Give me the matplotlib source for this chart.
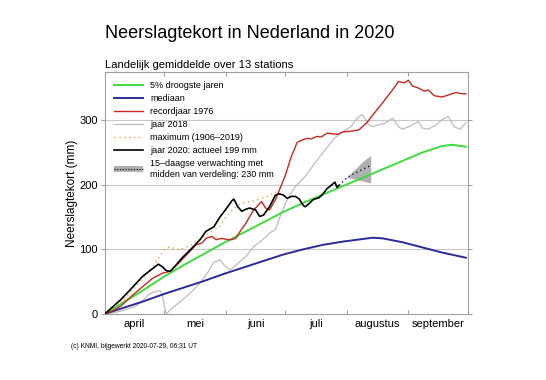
import matplotlib
matplotlib.use("Agg")
import matplotlib.pyplot as plt
from matplotlib.patches import Patch
from matplotlib.lines import Line2D

plt.rcParams["font.family"] = ["Liberation Sans", "DejaVu Sans"]

# x = days since 1 April
month_names = ["april", "mei", "juni", "juli", "augustus", "september"]
month_starts = [0, 30, 61, 91, 122, 153, 183]

dry5_days = [0, 10, 20, 30, 40, 50, 60, 70, 80, 90, 100, 110, 120, 130, 140, 150, 160, 170, 175, 182]
dry5_vals = [0, 19, 38, 58, 76, 93, 110, 126, 142, 158, 172, 185, 198, 211, 224, 237, 250, 260, 262, 259]

med_days = [0, 10, 20, 30, 40, 50, 60, 70, 80, 90, 100, 110, 120, 130, 135, 140, 150, 160, 170, 182]
med_vals = [0, 10, 20, 31, 41, 51, 62, 72, 82, 92, 100, 107, 112, 116, 118, 117, 111, 103, 95, 87]

r76_days = [0, 4, 8, 14, 19, 24, 29, 33, 38, 41, 46, 49, 51, 54, 56, 59, 62, 64, 66, 68, 71,
            75, 79, 81, 83, 86, 88, 91, 94, 97, 100, 102, 104, 107, 109, 112, 115, 117, 120,
            124, 128, 132, 135, 140, 145, 148, 151, 153, 155, 158, 161, 163, 166, 170, 174,
            177, 180, 182]
r76_vals = [0, 5, 12, 29, 42, 55, 63, 66, 81, 91, 107, 110, 117, 120, 115, 117, 115, 115, 117,
            127, 140, 161, 174, 164, 161, 177, 192, 215, 244, 266, 270, 272, 271, 275, 274,
            280, 279, 278, 282, 283, 285, 296, 308, 327, 347, 360, 358, 362, 353, 350, 345,
            347, 338, 336, 340, 343, 341, 341]

y18_days = [0, 5, 10, 14, 18, 22, 25, 28, 29, 30, 31, 34, 38, 43, 48, 51, 55, 58, 60, 63, 67,
            71, 75, 80, 83, 86, 89, 92, 96, 101, 106, 111, 116, 120, 124, 128, 130, 133, 135,
            138, 141, 144, 145, 148, 150, 154, 158, 160, 163, 167, 170, 173, 176, 179, 182]
y18_vals = [0, 2, 6, 10, 17, 30, 34, 36, 30, 12, 0, 9, 19, 32, 48, 60, 80, 84, 76, 68, 78,
            89, 104, 116, 125, 131, 156, 178, 197, 213, 234, 254, 273, 282, 290, 306, 308,
            293, 290, 293, 295, 301, 303, 290, 286, 291, 298, 288, 286, 293, 301, 306, 290,
            286, 296]

max_days = [0, 5, 10, 15, 20, 24, 27, 29, 31, 33, 35, 37, 40, 43, 46, 50, 54, 58, 61, 64, 67,
            70, 74, 78, 82, 86, 88]
max_vals = [0, 12, 24, 40, 58, 72, 86, 96, 102, 104, 101, 100, 102, 106, 112, 120, 128, 136,
            150, 160, 168, 172, 174, 178, 182, 188, 192]

y20_days = [0, 4, 8, 13, 19, 24, 27, 29, 31, 33, 36, 39, 43, 48, 51, 55, 58, 61, 64, 65, 67,
            69, 71, 73, 76, 78, 80, 83, 86, 88, 90, 92, 94, 96, 98, 100, 101, 103, 105, 108,
            110, 112, 114, 116, 117, 118]
y20_vals = [0, 11, 22, 38, 58, 70, 77, 73, 67, 66, 76, 87, 99, 115, 128, 135, 150, 162, 175,
            178, 166, 159, 162, 164, 161, 151, 153, 166, 184, 186, 184, 179, 182, 182, 178,
            168, 166, 171, 177, 180, 186, 194, 199, 204, 196, 199]

fc_days = [118, 120, 122, 124, 126, 128, 130, 132, 134]
fc_mid = [199, 205, 211, 215, 218, 221, 224, 227, 230]
fc_low = [199, 205, 211, 210, 209, 207, 206, 204, 203]
fc_high = [199, 205, 212, 218, 224, 230, 236, 241, 245]

c_green = "#3ddc3d"
c_blue = "#2b2b98"
c_red = "#c8281e"
c_gray = "#bdbdbd"
c_orange = "#e9a43a"
c_frame = "#a0a0a0"

fig = plt.figure(figsize=(5.46, 3.80), dpi=100)
ax = fig.add_axes([0.192, 0.174, 0.665, 0.637])

for yv in [100, 200, 300]:
    ax.axhline(yv, color="#c8c8c8", linewidth=0.8, zorder=0)

ax.fill_between(fc_days, fc_low, fc_high, color="#b0b0b0", linewidth=0, zorder=1)
ax.plot(fc_days, fc_mid, color="black", linestyle=(0, (1, 2.5)), linewidth=0.9, zorder=6)

ax.plot(max_days, max_vals, color=c_orange, linestyle=(0, (1, 2.5)), linewidth=1.0, zorder=2)
ax.plot(y18_days, y18_vals, color=c_gray, linewidth=0.9, zorder=3)
ax.plot(med_days, med_vals, color=c_blue, linewidth=1.4, zorder=3)
ax.plot(dry5_days, dry5_vals, color=c_green, linewidth=1.4, zorder=4)
ax.plot(r76_days, r76_vals, color=c_red, linewidth=1.0, zorder=4)
ax.plot(y20_days, y20_vals, color="black", linewidth=1.2, zorder=5)

ax.set_xlim(0, 183)
ax.set_ylim(0, 375)

# month boundaries as ticks, names centred between them
ax.set_xticks(month_starts)
ax.set_xticklabels([])
mids = [(month_starts[i] + month_starts[i + 1]) / 2 for i in range(len(month_names))]
ax.set_xticks(mids, minor=True)
ax.set_xticklabels(month_names, minor=True, fontsize=8)
ax.tick_params(axis="x", which="minor", length=0, pad=4)
ax.tick_params(axis="x", which="major", direction="in", length=3, color=c_frame,
               top=True, bottom=True)

ax.set_yticks([0, 100, 200, 300])
ax.tick_params(axis="y", direction="out", length=3, color=c_frame, labelsize=8,
               right=True, pad=2)
ax.set_ylabel("Neerslagtekort (mm)", fontsize=8.5, labelpad=1)

for s in ax.spines.values():
    s.set_color(c_frame)
    s.set_linewidth(0.8)

handles = [
    Line2D([], [], color=c_green, linewidth=1.4),
    Line2D([], [], color=c_blue, linewidth=1.4),
    Line2D([], [], color=c_red, linewidth=1.0),
    Line2D([], [], color=c_gray, linewidth=0.9),
    Line2D([], [], color=c_orange, linestyle=(0, (1, 2.5)), linewidth=1.0),
    Line2D([], [], color="black", linewidth=1.2),
    (Patch(facecolor="#b0b0b0", edgecolor="none"),
     Line2D([], [], color="black", linestyle=(0, (1, 1.5)), linewidth=0.8)),
]
labels = [
    "5% droogste jaren",
    "mediaan",
    "recordjaar 1976",
    "jaar 2018",
    "maximum (1906\u20132019)",
    "jaar 2020: actueel 199 mm",
    "15\u2013daagse verwachting met\nmidden van verdeling: 230 mm",
]
ax.legend(handles, labels, loc="upper left", bbox_to_anchor=(0.0, 1.0), frameon=False,
          fontsize=6.5, handlelength=3.2, handletextpad=0.8, labelspacing=0.45,
          borderaxespad=0.5, borderpad=0.5)

fig.text(0.192, 0.911, "Neerslagtekort in Nederland in 2020", fontsize=13,
         va="center", ha="left")
fig.text(0.192, 0.829, "Landelijk gemiddelde over 13 stations", fontsize=8.1,
         va="center", ha="left")
fig.text(0.130, 0.087, "(c) KNMI, bijgewerkt 2020-07-29, 06:31 UT", fontsize=4.8,
         va="center", ha="left")

fig.savefig("out.png", dpi=100)
